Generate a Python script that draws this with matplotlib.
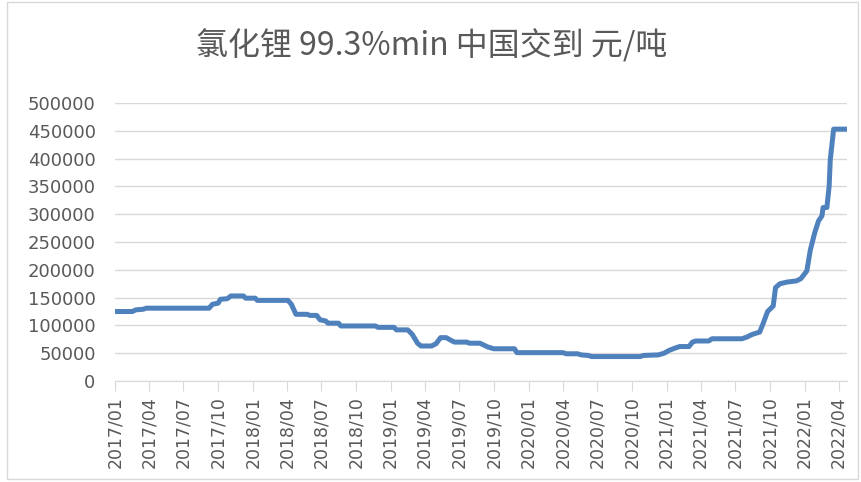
import numpy as np
import pandas as pd
import matplotlib
matplotlib.use('Agg')
import matplotlib.pyplot as plt
import matplotlib.dates as mdates
from matplotlib.patches import Rectangle

plt.rcParams['font.family'] = ['Noto Sans CJK SC', 'DejaVu Sans']

# price of lithium chloride
dates = ['2017-01-01', '2017-02-16', '2017-02-25', '2017-03-16', '2017-03-25',
         '2017-09-07', '2017-09-16', '2017-10-01', '2017-10-07', '2017-10-25',
         '2017-11-04', '2017-12-07', '2017-12-13', '2018-01-07', '2018-01-13',
         '2018-04-04', '2018-04-13', '2018-04-25', '2018-05-25', '2018-06-01',
         '2018-06-19', '2018-06-28', '2018-07-13', '2018-07-19', '2018-08-16',
         '2018-08-22', '2018-11-22', '2018-11-28', '2019-01-10', '2019-01-16',
         '2019-02-15', '2019-02-27', '2019-03-13', '2019-03-22', '2019-04-19',
         '2019-05-01', '2019-05-13', '2019-05-28', '2019-06-10', '2019-06-19',
         '2019-07-22', '2019-07-28', '2019-08-25', '2019-09-16', '2019-10-01',
         '2019-11-25', '2019-12-01', '2020-04-01', '2020-04-10', '2020-05-10',
         '2020-05-19', '2020-06-07', '2020-06-16', '2020-10-22', '2020-11-01',
         '2020-12-10', '2020-12-25', '2021-01-07', '2021-01-22', '2021-02-04',
         '2021-03-01', '2021-03-10', '2021-03-19', '2021-04-22', '2021-05-01',
         '2021-07-19', '2021-08-01', '2021-08-16', '2021-09-04', '2021-09-13',
         '2021-09-25', '2021-10-10', '2021-10-16', '2021-10-28', '2021-11-16',
         '2021-12-10', '2021-12-22', '2022-01-07', '2022-01-16', '2022-01-28',
         '2022-02-07', '2022-02-16', '2022-02-19', '2022-03-01', '2022-03-07',
         '2022-03-10', '2022-03-19', '2022-04-22']
prices = [125000, 125000, 128000, 129000, 131000,
          131000, 138000, 140000, 147000, 148000,
          153000, 153000, 149000, 149000, 145000,
          145000, 138000, 120000, 120000, 118000,
          118000, 110000, 108000, 104000, 104000,
          99000, 99000, 96500, 96500, 92000,
          92000, 84000, 68000, 63000, 63000,
          67000, 78000, 78000, 73000, 70000,
          70000, 68000, 68000, 61000, 58000,
          58000, 51000, 51000, 49000, 49000,
          47000, 46000, 44000, 44000, 46000,
          47000, 50000, 55000, 59000, 62000,
          62000, 70000, 72000, 72000, 76000,
          76000, 79000, 84000, 88000, 103000,
          125000, 135000, 168000, 175000, 178000,
          180000, 184000, 198000, 235000, 267000,
          288000, 297000, 312000, 312000, 350000,
          398000, 453000, 453000]

title = '氯化锂 99.3%min 中国交到 元/吨'
yticks = list(range(0, 500001, 50000))

grey = '#595959'
grid_c = '#d9d9d9'

x = pd.to_datetime(dates)

fig = plt.figure(figsize=(8.61, 4.82), dpi=100)
ax = fig.add_axes([0.1336, 0.2095, 0.85, 0.5768])

ax.plot(x, prices, color='#4f81bd', linewidth=3.6, solid_joinstyle='round')

ax.set_ylim(0, 500000)
ax.set_yticks(yticks)
ax.set_yticklabels([str(v) for v in yticks], family='DejaVu Sans')
ax.set_xlim(pd.Timestamp('2017-01-01'), pd.Timestamp('2022-04-23'))

xt = pd.date_range('2017-01-01', '2022-04-01', freq='3MS')
ax.set_xticks(xt)
ax.set_xticklabels([d.strftime('%Y/%m') for d in xt], rotation=90, family='DejaVu Sans')

ax.tick_params(axis='y', length=0, labelsize=13, labelcolor=grey, pad=14)
ax.tick_params(axis='x', length=7, color=grid_c, labelsize=12.5, labelcolor=grey, pad=4)
ax.grid(axis='y', color=grid_c, linewidth=1)
ax.set_axisbelow(True)
for s in ['top', 'right', 'left']:
    ax.spines[s].set_visible(False)
ax.spines['bottom'].set_color(grid_c)

fig.text(0.501, 0.905, title, ha='center', va='center', fontsize=23, color=grey)

# chart border
fig.patches.append(Rectangle((0.008, 0.006), 0.988, 0.99, transform=fig.transFigure,
                             fill=False, edgecolor=grid_c, linewidth=1))

fig.savefig('out.png', dpi=100)
